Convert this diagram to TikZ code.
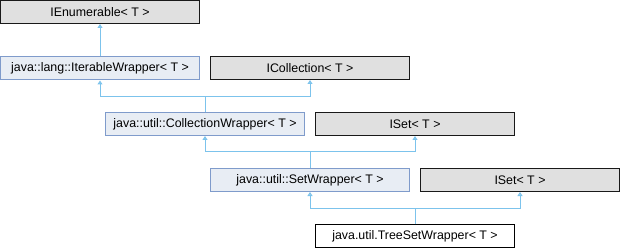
\documentclass[tikz,border=0pt]{standalone}
\usepackage{fontspec}
\setmainfont{Liberation Sans}
\usetikzlibrary{arrows.meta}
\definecolor{edgec}{HTML}{7CC3EC}
\definecolor{greyfill}{HTML}{E0E0E0}
\definecolor{bluefill}{HTML}{E8EDF4}
\definecolor{blueline}{HTML}{7F9BCB}
\tikzset{
  box/.style={rectangle, minimum width=199pt, minimum height=23pt, inner sep=0pt,
    font=\fontsize{12.4pt}{14pt}\selectfont, line width=1pt},
  extbox/.style={box, draw=black!90, fill=greyfill},
  wrapbox/.style={box, draw=blueline, fill=bluefill},
  curbox/.style={box, draw=black, fill=white},
  arr/.style={draw=edgec, line width=1pt, -{Triangle[length=4pt, width=5pt, fill=edgec!60]}}
}
\begin{document}
\begin{tikzpicture}[x=1pt, y=-1pt]
\useasboundingbox (0,0) rectangle (620,248);
\node[extbox] (ie) at (100,12) {IEnumerable< T >};
\node[wrapbox] (iw) at (100,68.5) {java::lang::IterableWrapper< T >};
\node[extbox] (ic) at (310,68) {ICollection< T >};
\node[wrapbox] (cw) at (205,124) {java::util::CollectionWrapper< T >};
\node[extbox] (is1) at (415,124) {ISet< T >};
\node[wrapbox] (sw) at (310,180) {java::util::SetWrapper< T >};
\node[extbox] (is2) at (520,180) {ISet< T >};
\node[curbox] (ts) at (415,236) {java.util.TreeSetWrapper< T >};
\coordinate (j1) at (205,97);
\coordinate (j2) at (310,152);
\coordinate (j3) at (415,208);
\draw[arr] (iw.north) -- (ie.south);
\draw[arr] (cw.north) -- (j1) -| (iw.south);
\draw[arr] (cw.north) -- (j1) -| (ic.south);
\draw[arr] (sw.north) -- (j2) -| (cw.south);
\draw[arr] (sw.north) -- (j2) -| (is1.south);
\draw[arr] (ts.north) -- (j3) -| (sw.south);
\draw[arr] (ts.north) -- (j3) -| (is2.south);
\end{tikzpicture}
\end{document}
